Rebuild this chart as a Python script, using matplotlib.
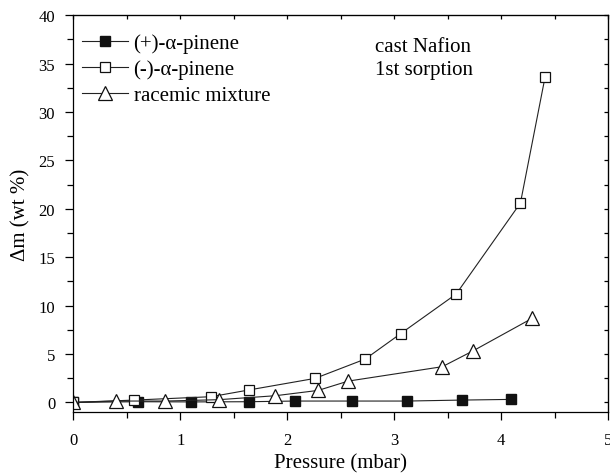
import matplotlib.pyplot as plt
from matplotlib.ticker import MultipleLocator

plt.rcParams['font.family'] = ['Liberation Serif', 'DejaVu Serif']

# (+)-alpha-pinene
p_plus = [0.0, 0.61, 1.10, 1.64, 2.07, 2.61, 3.12, 3.63, 4.09]
m_plus = [0.0, 0.07, 0.05, 0.07, 0.14, 0.14, 0.14, 0.24, 0.31]

# (-)-alpha-pinene
p_minus = [0.0, 0.57, 1.29, 1.64, 2.26, 2.73, 3.06, 3.58, 4.18, 4.41]
m_minus = [0.0, 0.24, 0.59, 1.28, 2.48, 4.48, 7.1, 11.2, 20.6, 33.6]

# racemic mixture
p_rac = [0.0, 0.40, 0.86, 1.36, 1.89, 2.29, 2.57, 3.45, 3.74, 4.29]
m_rac = [0.0, 0.14, 0.14, 0.28, 0.69, 1.24, 2.2, 3.69, 5.34, 8.69]

fig = plt.figure(figsize=(6.1, 4.77), dpi=100)
ax = fig.add_axes([0.120, 0.134, 0.877, 0.832])

lc = '#222222'
ax.plot(p_plus, m_plus, color=lc, lw=0.8, marker='s', ms=6.8,
        mfc='#111111', mec='#111111', label='(+)-α-pinene')
ax.plot(p_minus, m_minus, color=lc, lw=0.8, marker='s', ms=6.8,
        mfc='white', mec='#111111', mew=0.9, label='(-)-α-pinene')
ax.plot(p_rac, m_rac, color=lc, lw=0.8, marker='^', ms=9.5,
        mfc='white', mec='#111111', mew=0.9, label='racemic mixture')

ax.set_xlim(0, 5)
ax.set_ylim(-1, 40)
ax.xaxis.set_major_locator(MultipleLocator(1))
ax.xaxis.set_minor_locator(MultipleLocator(0.5))
ax.yaxis.set_major_locator(MultipleLocator(5))
ax.yaxis.set_minor_locator(MultipleLocator(2.5))
ax.tick_params(which='both', direction='out', labelsize=12, width=0.9, pad=7)
ax.tick_params(axis='x', which='both', pad=8)
ax.tick_params(which='major', length=6)
ax.tick_params(which='minor', length=4)

# mirrored ticks on top and right
top = ax.secondary_xaxis('top')
top.xaxis.set_major_locator(MultipleLocator(0.5))
top.tick_params(direction='in', length=3, labeltop=False, width=0.9)
right = ax.secondary_yaxis('right')
right.yaxis.set_major_locator(MultipleLocator(2.5))
right.tick_params(direction='in', length=3, labelright=False, width=0.9)

for sp in ax.spines.values():
    sp.set_linewidth(0.9)

ax.set_xlabel('Pressure (mbar)', fontsize=15, labelpad=4)
ax.set_ylabel('Δm (wt %)', fontsize=15, labelpad=6)

ax.legend(loc='upper left', frameon=False, fontsize=15, handlelength=2.25,
          handletextpad=0.25, labelspacing=0.3, borderaxespad=0.0,
          bbox_to_anchor=(0.0, 0.975))

ax.text(0.564, 0.945, 'cast Nafion\n1st sorption', transform=ax.transAxes,
        fontsize=15, va='top', ha='left', linespacing=1.3)

fig.savefig('out.png', dpi=100)
